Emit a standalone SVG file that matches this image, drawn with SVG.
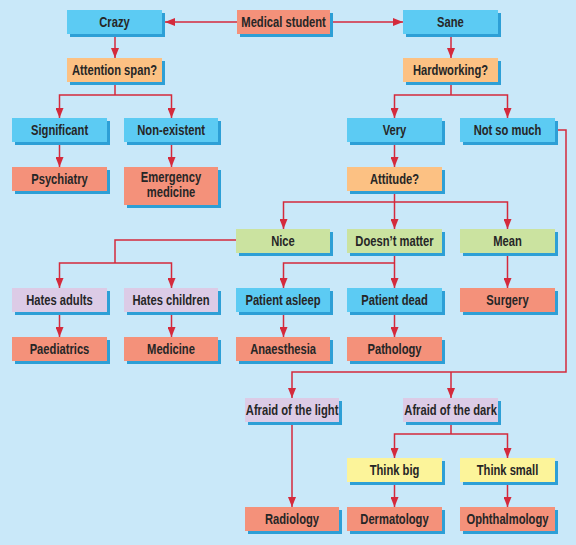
<svg xmlns="http://www.w3.org/2000/svg" width="576" height="545" viewBox="0 0 576 545">
<style>
.bg{fill:#c9e8f9}
.sh{fill:#2d9fd6}
.blue{fill:#5ccbf3}
.sal{fill:#f4917a}
.q{fill:#fcc183}
.grn{fill:#cbe3a0}
.lav{fill:#dccbe6}
.yel{fill:#fcf49a}
text{font-family:"Liberation Sans",Arial,sans-serif;font-size:14px;font-weight:bold;fill:#262626;text-anchor:middle;transform:scaleX(0.8);transform-box:fill-box;transform-origin:center}
#connectors path{fill:none;stroke:#d42a3c;stroke-width:1.5}
</style>
<defs>
<marker id="ah" markerUnits="userSpaceOnUse" markerWidth="10" markerHeight="8" refX="10" refY="4" orient="auto-start-reverse">
<path d="M0,0 L10,4 L0,8 z" fill="#d42a3c"/>
</marker>
</defs>
<rect class="bg" x="0" y="0" width="576" height="545"/>

<g id="connectors">
<path d="M237,22 H165" marker-end="url(#ah)"/>
<path d="M330,22 H403" marker-end="url(#ah)"/>
<path d="M115,34 V58" marker-end="url(#ah)"/>
<path d="M451,34 V58" marker-end="url(#ah)"/>
<path d="M115,82 V95"/>
<path d="M59.5,118 V95 H171.5 V118" marker-start="url(#ah)" marker-end="url(#ah)"/>
<path d="M451,82 V95"/>
<path d="M394.5,118 V95 H507.5 V118" marker-start="url(#ah)" marker-end="url(#ah)"/>
<path d="M59.5,142 V167" marker-end="url(#ah)"/>
<path d="M171.5,142 V167" marker-end="url(#ah)"/>
<path d="M394.5,142 V167" marker-end="url(#ah)"/>
<path d="M394.5,191 V229" marker-end="url(#ah)"/>
<path d="M283.5,229 V202 H507.5 V229" marker-start="url(#ah)" marker-end="url(#ah)"/>
<path d="M236,240 H115 V263"/>
<path d="M59.5,288 V263 H171.5 V288" marker-start="url(#ah)" marker-end="url(#ah)"/>
<path d="M394.5,253 V288" marker-end="url(#ah)"/>
<path d="M283.5,288 V263 H394.5" marker-start="url(#ah)"/>
<path d="M507.5,253 V288" marker-end="url(#ah)"/>
<path d="M59.5,312 V337" marker-end="url(#ah)"/>
<path d="M171.5,312 V337" marker-end="url(#ah)"/>
<path d="M283.5,312 V337" marker-end="url(#ah)"/>
<path d="M394.5,312 V337" marker-end="url(#ah)"/>
<path d="M555,130 H566 V372 H292 V398" marker-end="url(#ah)"/>
<path d="M451,372 V398" marker-end="url(#ah)"/>
<path d="M292,422 V507" marker-end="url(#ah)"/>
<path d="M451,422 V434"/>
<path d="M394.5,458 V434 H507.5 V458" marker-start="url(#ah)" marker-end="url(#ah)"/>
<path d="M394.5,482 V507" marker-end="url(#ah)"/>
<path d="M507.5,482 V507" marker-end="url(#ah)"/>
</g>

<g id="medical-student"><rect class="sh" x="240" y="13" width="93" height="24"/><rect class="sal" x="237" y="10" width="93" height="24"/><text x="283.5" y="27">Medical student</text></g>
<g id="crazy"><rect class="sh" x="70" y="13" width="95" height="24"/><rect class="blue" x="67" y="10" width="95" height="24"/><text x="114.5" y="27">Crazy</text></g>
<g id="sane"><rect class="sh" x="406" y="13" width="95" height="24"/><rect class="blue" x="403" y="10" width="95" height="24"/><text x="450.5" y="27">Sane</text></g>
<g id="attention-span"><rect class="sh" x="70" y="61" width="95" height="24"/><rect class="q" x="67" y="58" width="95" height="24"/><text x="114.5" y="75">Attention span?</text></g>
<g id="hardworking"><rect class="sh" x="406" y="61" width="95" height="24"/><rect class="q" x="403" y="58" width="95" height="24"/><text x="450.5" y="75">Hardworking?</text></g>
<g id="significant"><rect class="sh" x="15" y="121" width="95" height="24"/><rect class="blue" x="12" y="118" width="95" height="24"/><text x="59.5" y="135">Significant</text></g>
<g id="non-existent"><rect class="sh" x="127" y="121" width="94" height="24"/><rect class="blue" x="124" y="118" width="94" height="24"/><text x="171" y="135">Non-existent</text></g>
<g id="very"><rect class="sh" x="350" y="121" width="95" height="24"/><rect class="blue" x="347" y="118" width="95" height="24"/><text x="394.5" y="135">Very</text></g>
<g id="not-so-much"><rect class="sh" x="463" y="121" width="95" height="24"/><rect class="blue" x="460" y="118" width="95" height="24"/><text x="507.5" y="135">Not so much</text></g>
<g id="psychiatry"><rect class="sh" x="15" y="170" width="95" height="24"/><rect class="sal" x="12" y="167" width="95" height="24"/><text x="59.5" y="184">Psychiatry</text></g>
<g id="emergency-medicine"><rect class="sh" x="127" y="170" width="94" height="38"/><rect class="sal" x="124" y="167" width="94" height="38"/><text x="171" y="182">Emergency</text><text x="171" y="197">medicine</text></g>
<g id="attitude"><rect class="sh" x="350" y="170" width="95" height="24"/><rect class="q" x="347" y="167" width="95" height="24"/><text x="394.5" y="184">Attitude?</text></g>
<g id="nice"><rect class="sh" x="239" y="232" width="94" height="24"/><rect class="grn" x="236" y="229" width="94" height="24"/><text x="283" y="246">Nice</text></g>
<g id="doesnt-matter"><rect class="sh" x="350" y="232" width="95" height="24"/><rect class="grn" x="347" y="229" width="95" height="24"/><text x="394.5" y="246">Doesn’t matter</text></g>
<g id="mean"><rect class="sh" x="463" y="232" width="95" height="24"/><rect class="grn" x="460" y="229" width="95" height="24"/><text x="507.5" y="246">Mean</text></g>
<g id="hates-adults"><rect class="sh" x="15" y="291" width="95" height="24"/><rect class="lav" x="12" y="288" width="95" height="24"/><text x="59.5" y="305">Hates adults</text></g>
<g id="hates-children"><rect class="sh" x="127" y="291" width="94" height="24"/><rect class="lav" x="124" y="288" width="94" height="24"/><text x="171" y="305">Hates children</text></g>
<g id="patient-asleep"><rect class="sh" x="239" y="291" width="94" height="24"/><rect class="blue" x="236" y="288" width="94" height="24"/><text x="283" y="305">Patient asleep</text></g>
<g id="patient-dead"><rect class="sh" x="350" y="291" width="95" height="24"/><rect class="blue" x="347" y="288" width="95" height="24"/><text x="394.5" y="305">Patient dead</text></g>
<g id="surgery"><rect class="sh" x="463" y="291" width="95" height="24"/><rect class="sal" x="460" y="288" width="95" height="24"/><text x="507.5" y="305">Surgery</text></g>
<g id="paediatrics"><rect class="sh" x="15" y="340" width="95" height="24"/><rect class="sal" x="12" y="337" width="95" height="24"/><text x="59.5" y="354">Paediatrics</text></g>
<g id="medicine"><rect class="sh" x="127" y="340" width="94" height="24"/><rect class="sal" x="124" y="337" width="94" height="24"/><text x="171" y="354">Medicine</text></g>
<g id="anaesthesia"><rect class="sh" x="239" y="340" width="94" height="24"/><rect class="sal" x="236" y="337" width="94" height="24"/><text x="283" y="354">Anaesthesia</text></g>
<g id="pathology"><rect class="sh" x="350" y="340" width="95" height="24"/><rect class="sal" x="347" y="337" width="95" height="24"/><text x="394.5" y="354">Pathology</text></g>
<g id="afraid-light"><rect class="sh" x="248" y="401" width="94" height="24"/><rect class="lav" x="245" y="398" width="94" height="24"/><text x="292" y="415">Afraid of the light</text></g>
<g id="afraid-dark"><rect class="sh" x="406" y="401" width="95" height="24"/><rect class="lav" x="403" y="398" width="95" height="24"/><text x="450.5" y="415">Afraid of the dark</text></g>
<g id="think-big"><rect class="sh" x="350" y="461" width="95" height="24"/><rect class="yel" x="347" y="458" width="95" height="24"/><text x="394.5" y="475">Think big</text></g>
<g id="think-small"><rect class="sh" x="463" y="461" width="95" height="24"/><rect class="yel" x="460" y="458" width="95" height="24"/><text x="507.5" y="475">Think small</text></g>
<g id="radiology"><rect class="sh" x="248" y="510" width="94" height="24"/><rect class="sal" x="245" y="507" width="94" height="24"/><text x="292" y="524">Radiology</text></g>
<g id="dermatology"><rect class="sh" x="350" y="510" width="95" height="24"/><rect class="sal" x="347" y="507" width="95" height="24"/><text x="394.5" y="524">Dermatology</text></g>
<g id="ophthalmology"><rect class="sh" x="463" y="510" width="95" height="24"/><rect class="sal" x="460" y="507" width="95" height="24"/><text x="507.5" y="524">Ophthalmology</text></g>
</svg>
